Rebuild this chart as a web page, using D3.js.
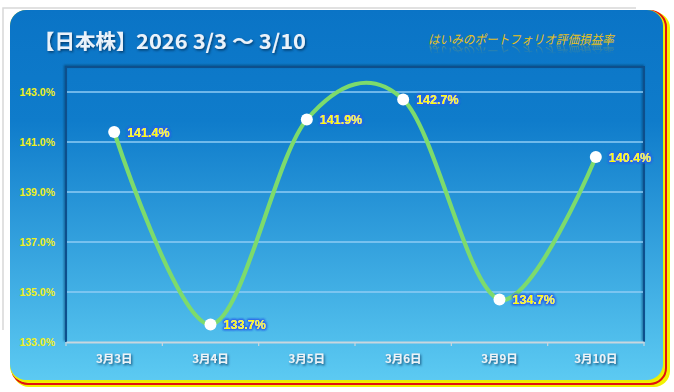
<!DOCTYPE html>
<html><head><meta charset="utf-8">
<script src="https://cdn.jsdelivr.net/npm/d3@7"></script>
<style>html,body{margin:0;padding:0;background:#fff;}svg{display:block;}</style>
</head><body>
<script>
const categories = ["3月3日","3月4日","3月5日","3月6日","3月9日","3月10日"];
const values = [141.4,133.7,141.9,142.7,134.7,140.4];
const yTicks = [133,135,137,139,141,143];
const titleMain = "【日本株】";
const titleDates = "2026 3/3 ～ 3/10";
const subtitle = "はいみのポートフォリオ評価損益率";

const W=674,H=392;
const svg=d3.select("body").append("svg").attr("width",W).attr("height",H);
const defs=svg.append("defs");
const bg=defs.append("linearGradient").attr("id","bg").attr("x1",0).attr("y1",0).attr("x2",0).attr("y2",1);
bg.append("stop").attr("offset","0%").attr("stop-color","#0a74c6");
bg.append("stop").attr("offset","30%").attr("stop-color","#0f7ccb");
bg.append("stop").attr("offset","100%").attr("stop-color","#5ccaf2");
const sh=defs.append("filter").attr("id","sh").attr("x","-10%").attr("y","-30%").attr("width","130%").attr("height","180%");
sh.append("feDropShadow").attr("dx",1.2).attr("dy",1.5).attr("stdDeviation",1).attr("flood-color","#03305a").attr("flood-opacity",0.8);
const glow=defs.append("filter").attr("id","glow").attr("x","-20%").attr("y","-40%").attr("width","140%").attr("height","180%");
glow.append("feMorphology").attr("in","SourceAlpha").attr("operator","dilate").attr("radius",1.2).attr("result","d");
glow.append("feGaussianBlur").attr("in","d").attr("stdDeviation",1.3).attr("result","b");
glow.append("feFlood").attr("flood-color","#2a62e6").attr("flood-opacity",0.85);
glow.append("feComposite").attr("in2","b").attr("operator","in").attr("result","g");
const gm=glow.append("feMerge");gm.append("feMergeNode").attr("in","g");gm.append("feMergeNode").attr("in","g");gm.append("feMergeNode").attr("in","SourceGraphic");
const fsh=defs.append("filter").attr("id","fsh").attr("x","-5%").attr("y","-5%").attr("width","110%").attr("height","110%");
fsh.append("feDropShadow").attr("dx",-1).attr("dy",-1).attr("stdDeviation",1.2).attr("flood-color","#053a6a").attr("flood-opacity",0.7);
const rg=defs.append("linearGradient").attr("id","rg").attr("x1",0).attr("y1",0).attr("x2",0).attr("y2",1);
rg.append("stop").attr("offset","0%").attr("stop-color","#fff").attr("stop-opacity",0);
rg.append("stop").attr("offset","100%").attr("stop-color","#fff").attr("stop-opacity",0.4);
const rmask=defs.append("mask").attr("id","rmask").attr("maskUnits","userSpaceOnUse").attr("x",400).attr("y",28).attr("width",240).attr("height",20);
rmask.append("rect").attr("x",400).attr("y",36).attr("width",240).attr("height",9).attr("fill","url(#rg)");

// outer frame lines
svg.append("path").attr("d","M3,330 V8 H636").attr("fill","none").attr("stroke","#d8d8d8").attr("stroke-width",1.5);
// stripes (bottom-right)
svg.append("rect").attr("x",13).attr("y",12).attr("width",657).attr("height",375).attr("rx",16).attr("fill","#f2f200");
svg.append("rect").attr("x",12).attr("y",11).attr("width",654).attr("height",373).attr("rx",16).attr("fill","none").attr("stroke","#e01010").attr("stroke-width",2);
svg.append("rect").attr("x",10).attr("y",10).attr("width",654).attr("height",372).attr("rx",16).attr("fill","#e8f000");
// panel
svg.append("rect").attr("x",10).attr("y",10).attr("width",653).attr("height",370).attr("rx",16).attr("fill","url(#bg)");

const x=d3.scaleBand().domain(categories).range([66,644]);
const y=d3.scaleLinear().domain([133,144]).range([342,67]);

// plot frame
svg.append("path").attr("d",`M${x.range()[0]},342 V${y(144)} H${x.range()[1]} V342`).attr("fill","none").attr("stroke","#0a4f8c").attr("stroke-width",2).attr("filter","url(#fsh)");

// grid
svg.append("g").selectAll("line").data(yTicks.filter(d=>d>133)).join("line")
 .attr("x1",67).attr("x2",643).attr("y1",d=>y(d)).attr("y2",d=>y(d))
 .attr("stroke","#8fcdf5").attr("stroke-width",1.5);

// y axis labels
const yAxis=d3.axisLeft(y).tickValues(yTicks).tickFormat(d=>d.toFixed(1)+"%").tickSize(0).tickPadding(0);
const ya=svg.append("g").attr("transform","translate(55,0)").call(yAxis);
ya.select(".domain").remove();
ya.selectAll("text").attr("fill","#f0f020").attr("font-family","Liberation Sans, Arial, sans-serif").attr("font-weight","bold").attr("font-size",10.5).attr("dy","0.35em");

// x axis
const xAxis=d3.axisBottom(x).tickSize(0).tickPadding(0);
const xa=svg.append("g").attr("transform","translate(0,342)").call(xAxis);
xa.select(".domain").attr("stroke","#c9d6de").attr("stroke-width",2);
xa.selectAll("text").attr("fill","#eef3f7").attr("font-family","Noto Sans CJK JP, sans-serif").attr("font-weight","bold").attr("font-size",11.5).attr("dy","0").attr("y",21).attr("filter","url(#sh)");
const bounds=categories.map(c=>x(c)).concat([x.range()[1]]);
svg.append("g").selectAll("line").data(bounds).join("line")
 .attr("x1",d=>d).attr("x2",d=>d).attr("y1",342).attr("y2",346).attr("stroke","#c9d6de").attr("stroke-width",1.2);

// line
const cx=d=>x(d)+x.bandwidth()/2;
const data=categories.map((c,i)=>({c,v:values[i]}));
const line=d3.line().x(d=>cx(d.c)).y(d=>y(d.v)).curve(d3.curveCardinal.tension(0));
svg.append("path").datum(data).attr("d",line).attr("fill","none").attr("stroke","#7ddb6c").attr("stroke-width",4.2).attr("stroke-linecap","round");
svg.append("g").selectAll("circle").data(data).join("circle")
 .attr("cx",d=>cx(d.c)).attr("cy",d=>y(d.v)).attr("r",6).attr("fill","#fff");
svg.append("g").selectAll("text").data(data).join("text")
 .attr("x",d=>cx(d.c)+13).attr("y",d=>y(d.v)).attr("dy","0.37em")
 .attr("fill","#ffff00").attr("font-family","Liberation Sans, Arial, sans-serif").attr("font-weight","bold").attr("font-size",12.5)
 .attr("filter","url(#glow)").text(d=>d.v.toFixed(1)+"%");

// title
const t=svg.append("text").attr("x",34).attr("y",49).attr("fill","#eaf2fa").attr("font-family","Noto Sans CJK JP, sans-serif").attr("font-weight","bold").attr("font-size",20.5).attr("filter","url(#sh)");
t.append("tspan").text(titleMain);
t.append("tspan").attr("x",136).attr("textLength",170).attr("lengthAdjust","spacingAndGlyphs").text(titleDates);

// subtitle with reflection
svg.append("text").attr("id","sub").attr("x",428).attr("y",44).attr("fill","#e8c020").attr("font-family","Noto Sans CJK JP, sans-serif").attr("font-style","italic").attr("font-size",12.5).attr("textLength",186).attr("lengthAdjust","spacingAndGlyphs").text(subtitle);
svg.append("use").attr("href","#sub").attr("transform","translate(0,90) scale(1,-1)").attr("mask","url(#rmask)");
</script>
</body></html>
